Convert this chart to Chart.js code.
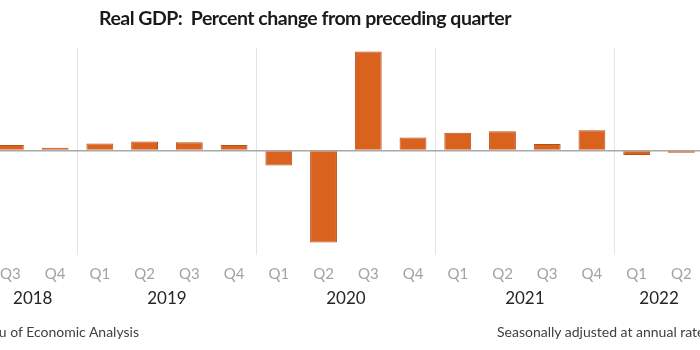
<!DOCTYPE html>
<html>
<head>
<meta charset="utf-8">
<script src="https://cdn.jsdelivr.net/npm/chart.js@4/dist/chart.umd.min.js"></script>
<style>
  html, body { margin: 0; padding: 0; width: 700px; height: 350px; overflow: hidden; background: #fff; }
  #wrap { position: absolute; left: -12.4px; top: 0; width: 715.8px; height: 350px; }
  .txt { position: absolute; white-space: nowrap; font-family: Lato, "Open Sans", sans-serif; }
  #title { left: 99px; top: 6px; font-size: 19.5px; font-weight: bold; color: #1a1a1a; letter-spacing: -0.5px; }
  #src { right: 561px; top: 323px; font-size: 14px; color: #404040; }
  #adj { left: 497px; top: 323px; font-size: 14px; color: #404040; }
</style>
</head>
<body>
<div id="wrap"><canvas id="c"></canvas></div>
<div class="txt" id="title">Real GDP:&nbsp; Percent change from preceding quarter</div>
<div class="txt" id="src">Source: U.S. Bureau of Economic Analysis</div>
<div class="txt" id="adj">Seasonally adjusted at annual rates</div>
<script>
const quarters = ['Q3','Q4','Q1','Q2','Q3','Q4','Q1','Q2','Q3','Q4','Q1','Q2','Q3','Q4','Q1','Q2'];
const years = ['2018','2018','2019','2019','2019','2019','2020','2020','2020','2020','2021','2021','2021','2021','2022','2022'];
const gdpChange = [1.9, 0.9, 2.4, 3.1, 2.8, 1.9, -5.1, -31.4, 33.8, 4.4, 6.1, 6.6, 2.2, 6.9, -1.5, -0.8];

const yearLabels = {
  id: 'yearLabels',
  afterDraw(chart) {
    const x = chart.scales.x;
    const ctx = chart.ctx;
    ctx.save();
    ctx.font = '17px Lato, "Open Sans", sans-serif';
    ctx.fillStyle = '#262626';
    ctx.textAlign = 'center';
    ctx.textBaseline = 'middle';
    const seen = [];
    years.forEach(y => { if (!seen.includes(y)) seen.push(y); });
    seen.forEach(y => {
      const first = years.indexOf(y), last = years.lastIndexOf(y);
      const px = (x.getPixelForValue(first) + x.getPixelForValue(last)) / 2;
      ctx.fillText(y, px, 299);
    });
    ctx.restore();
  }
};

new Chart(document.getElementById('c'), {
  type: 'bar',
  data: {
    labels: quarters,
    datasets: [{
      data: gdpChange,
      backgroundColor: '#D9621E',
      borderColor: '#B5501A',
      borderWidth: 1,
      categoryPercentage: 1,
      barPercentage: 0.6
    }]
  },
  options: {
    responsive: true,
    maintainAspectRatio: false,
    animation: false,
    layout: { padding: { top: 48, left: 0, right: 0, bottom: 0 } },
    plugins: { legend: { display: false }, tooltip: { enabled: false } },
    scales: {
      x: {
        offset: true,
        border: { display: false },
        grid: {
          offset: true,
          drawTicks: true,
          tickLength: 2,
          lineWidth: 1,
          color: (c) => (c.index > 0 && c.index < quarters.length && quarters[c.index] === 'Q1') ? '#e4e4e4' : 'rgba(0,0,0,0)'
        },
        ticks: {
          color: '#a3a3a3',
          font: { family: 'Lato, "Open Sans", sans-serif', size: 15 },
          padding: 10,
          maxRotation: 0,
          autoSkip: false
        },
        afterFit: (s) => { s.height = 97; }
      },
      y: {
        min: -35,
        max: 35,
        border: { display: false },
        ticks: { display: false },
        grid: {
          drawTicks: false,
          lineWidth: 1.5,
          color: (c) => (c.tick && c.tick.value === 0) ? '#a8a8a8' : 'rgba(0,0,0,0)'
        },
        afterFit: (s) => { s.width = 0; }
      }
    }
  },
  plugins: [yearLabels]
});
</script>
</body>
</html>
